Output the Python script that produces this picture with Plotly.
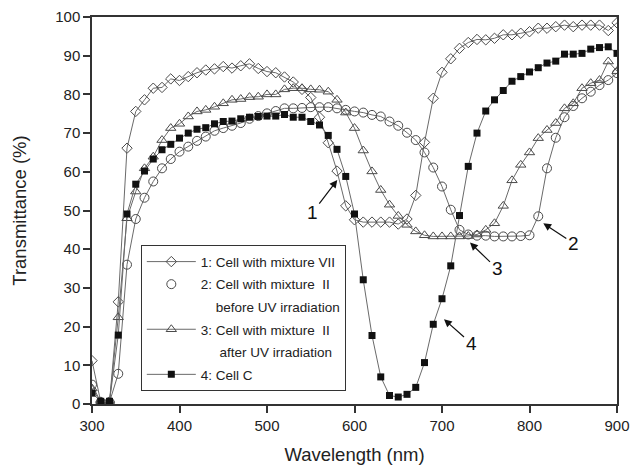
import plotly.graph_objects as go

wavelength = list(range(300, 901, 10))

mix_vii = [11.2, 0.5, 0.5, 26.4, 66.1, 75.6, 78.6, 81.6, 81.8, 84.0,
           83.6, 84.6, 85.6, 86.3, 86.6, 87.2, 86.8, 87.4, 87.9, 86.7,
           85.9, 85.6, 84.5, 83.2, 81.3, 79.2, 74.1, 67.5, 60.2, 51.2,
           47.6, 47.0, 47.0, 47.0, 47.0, 46.5, 47.8, 53.9, 67.6, 79.0,
           85.7, 89.2, 91.9, 93.4, 94.2, 94.1, 94.5, 95.4, 95.4, 95.8,
           96.2, 97.1, 97.1, 97.5, 97.9, 97.5, 97.9, 97.9, 97.9, 96.5,
           98.5]

mix_ii_before = [5.0, 0.5, 0.5, 7.8, 36.0, 47.8, 53.3, 57.5, 60.9, 63.3,
                 65.2, 66.5, 68.0, 69.1, 70.6, 71.3, 71.9, 72.6, 73.7, 74.4,
                 75.1, 75.7, 76.4, 76.4, 76.5, 76.7, 76.7, 76.7, 76.4, 76.0,
                 75.6, 75.3, 74.7, 74.3, 73.0, 71.9, 70.1, 68.2, 65.0, 61.1,
                 56.2, 50.2, 45.0, 43.8, 43.5, 43.5, 43.3, 43.3, 43.3, 43.4,
                 43.6, 48.5, 60.9, 68.8, 74.1, 77.0, 79.0, 80.7, 82.4, 83.7,
                 85.5]

mix_ii_after = [4.0, 0.5, 0.5, 22.4, 48.0, 54.9, 60.9, 63.9, 68.2, 71.3,
                72.4, 74.3, 75.6, 76.0, 76.8, 77.7, 78.6, 78.8, 79.3, 79.4,
                80.0, 80.0, 81.3, 81.6, 81.6, 81.3, 81.2, 80.7, 78.6, 75.3,
                71.3, 65.5, 60.1, 55.3, 51.5, 48.6, 46.3, 44.6, 43.6, 43.3,
                43.3, 43.3, 43.3, 43.4, 43.8, 45.0, 46.7, 51.2, 57.8, 61.8,
                65.0, 68.7, 70.8, 72.6, 76.4, 77.7, 81.6, 82.9, 83.7, 88.5,
                86.0]

cell_c = [2.8, 0.7, 0.7, 17.8, 49.1, 56.8, 60.2, 63.3, 65.7, 67.1,
          68.7, 70.0, 71.0, 71.4, 72.4, 73.0, 73.1, 73.7, 74.1, 74.3,
          74.4, 74.4, 74.8, 74.1, 74.1, 73.0, 72.1, 69.4, 65.8, 58.8,
          49.1, 32.1, 17.7, 7.0, 2.2, 1.8, 2.5, 4.3, 10.7, 20.6,
          27.2, 35.7, 48.7, 61.4, 70.0, 75.7, 78.6, 81.0, 83.4, 84.6,
          85.8, 86.9, 88.1, 88.6, 90.4, 90.4, 90.6, 91.7, 92.1, 92.3,
          90.6]

legend_names = ["1: Cell with mixture VII",
                "2: Cell with mixture\u00a0\u00a0II",
                "\u00a0\u00a0\u00a0\u00a0before UV irradiation",
                "3: Cell with mixture\u00a0\u00a0II",
                "\u00a0\u00a0\u00a0\u00a0\u00a0after UV irradiation",
                "4: Cell C"]

# arrow labels: (label, tip wavelength, tip transmittance, dx px, dy px)
arrow_labels = [("1", 580.3, 57.9, -25, 33),
                ("2", 815.8, 46.7, 30, 20),
                ("3", 732.0, 41.7, 27, 26),
                ("4", 702.3, 21.9, 27, 24)]

LINE = "#6a6a6a"
MK = "#4a4a4a"

fig = go.Figure()

fig.add_trace(go.Scatter(x=wavelength, y=mix_vii, mode="lines+markers", name=legend_names[0],
                         legendgroup="g1",
                         line=dict(color=LINE, width=1),
                         marker=dict(symbol="diamond-open", size=8, color=MK, line=dict(width=1, color=MK))))
fig.add_trace(go.Scatter(x=wavelength, y=mix_ii_before, mode="lines+markers", showlegend=False,
                         line=dict(color=LINE, width=1),
                         marker=dict(symbol="circle-open", size=9, color=MK, line=dict(width=1, color=MK))))
fig.add_trace(go.Scatter(x=[None], y=[None], mode="markers", name=legend_names[1],
                         legendgroup="g2",
                         marker=dict(symbol="circle-open", size=9, color=MK, line=dict(width=1, color=MK))))
fig.add_trace(go.Scatter(x=[None], y=[None], mode="lines", name=legend_names[2],
                         legendgroup="g3",
                         line=dict(color="rgba(0,0,0,0)", width=1)))
fig.add_trace(go.Scatter(x=wavelength, y=mix_ii_after, mode="lines+markers", name=legend_names[3],
                         legendgroup="g4",
                         line=dict(color=LINE, width=1),
                         marker=dict(symbol="triangle-up-open", size=9, color=MK, line=dict(width=1, color=MK))))
fig.add_trace(go.Scatter(x=[None], y=[None], mode="lines", name=legend_names[4],
                         legendgroup="g5",
                         line=dict(color="rgba(0,0,0,0)", width=1)))
fig.add_trace(go.Scatter(x=wavelength, y=cell_c, mode="lines+markers", name=legend_names[5],
                         legendgroup="g6",
                         line=dict(color=LINE, width=1),
                         marker=dict(symbol="square", size=7, color="#111111", line=dict(width=0))))

annotations = []
for lab, xv, yv, dx, dy in arrow_labels:
    annotations.append(dict(x=xv, y=yv, xref="x", yref="y", text=lab, showarrow=True,
                            ax=dx, ay=dy, arrowhead=2, arrowsize=1.3, arrowwidth=1.2,
                            arrowcolor="#111111", standoff=0,
                            font=dict(family="Liberation Sans, Arial", size=19, color="#111111")))

fig.update_layout(
    width=632, height=466,
    margin=dict(l=92, r=15, t=17, b=62, autoexpand=False),
    paper_bgcolor="white", plot_bgcolor="white",
    font=dict(family="Liberation Sans, Arial", size=15, color="#222222"),
    showlegend=True,
    legend=dict(x=0.093, y=0.41, xanchor="left", yanchor="top",
                bgcolor="white", bordercolor="#333333", borderwidth=1,
                font=dict(size=13.5, color="#222222"),
                traceorder="grouped", tracegroupgap=2.0, itemwidth=49),
    annotations=annotations,
)

fig.update_xaxes(range=[300, 900], tickvals=[300, 400, 500, 600, 700, 800, 900],
                 automargin=False,
                 showgrid=False, zeroline=False, showline=True, linecolor="#333333", linewidth=1.5,
                 mirror=True, ticks="outside", ticklen=7, tickwidth=1.5, tickcolor="#333333",
                 title=dict(text="Wavelength (nm)", font=dict(size=18.5)))
fig.update_yaxes(range=[0, 100], tickvals=list(range(0, 101, 10)),
                 automargin=False,
                 showgrid=False, zeroline=False, showline=True, linecolor="#333333", linewidth=1.5,
                 mirror=True, ticks="outside", ticklen=7, tickwidth=1.5, tickcolor="#333333",
                 title=dict(text="Transmittance (%)", font=dict(size=18.5), standoff=24))

fig.write_html("out.html")
